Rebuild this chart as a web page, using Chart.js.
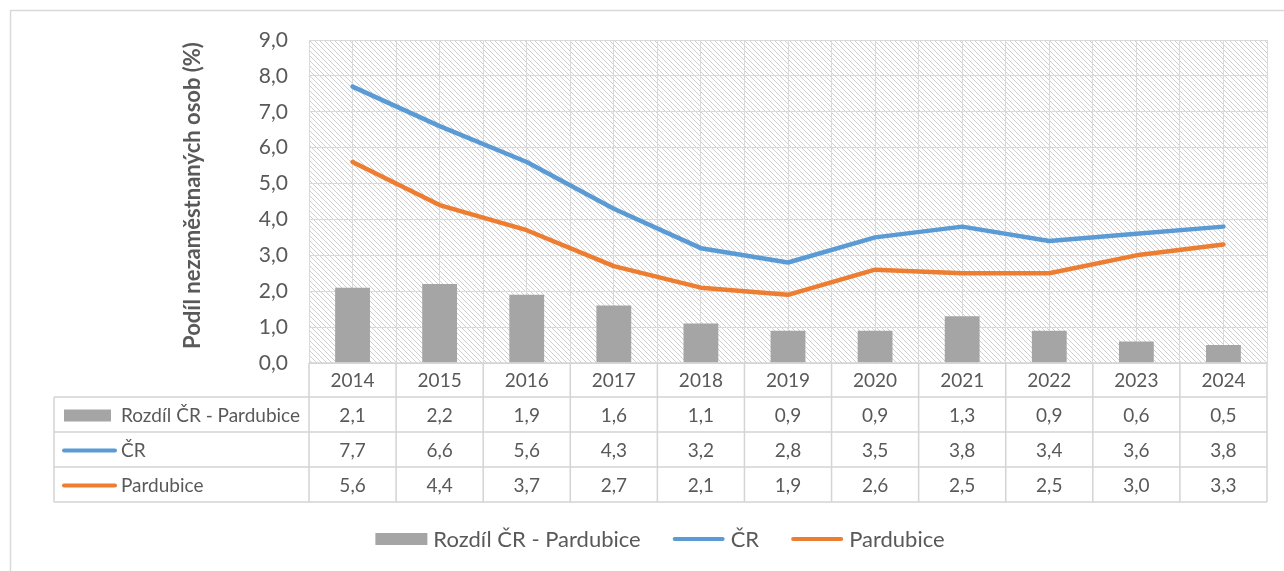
<!DOCTYPE html>
<html>
<head>
<meta charset="utf-8">
<script src="https://cdn.jsdelivr.net/npm/chart.js@4.4.1/dist/chart.umd.min.js"></script>
<style>
  html, body { margin: 0; padding: 0; background: #ffffff; }
  #wrap { width: 1284px; height: 571px; position: relative; }
</style>
</head>
<body>
<div id="wrap"><canvas id="c" width="1284" height="571"></canvas></div>
<script>
// ---- data ----
const years = ['2014', '2015', '2016', '2017', '2018', '2019', '2020', '2021', '2022', '2023', '2024'];
const rozdil = [2.1, 2.2, 1.9, 1.6, 1.1, 0.9, 0.9, 1.3, 0.9, 0.6, 0.5];
const cr = [7.7, 6.6, 5.6, 4.3, 3.2, 2.8, 3.5, 3.8, 3.4, 3.6, 3.8];
const pardubice = [5.6, 4.4, 3.7, 2.7, 2.1, 1.9, 2.6, 2.5, 2.5, 3.0, 3.3];
const seriesNames = ['Rozdíl ČR - Pardubice', 'ČR', 'Pardubice'];
const yTitle = 'Podíl nezaměstnaných osob (%)';
const yMin = 0, yMax = 9, yStep = 1;

// ---- style ----
const FONT = 'Lato';
const TXT = '#595959';
const GRID = '#d9d9d9';
const COL_BAR = '#a5a5a5';
const COL_CR = '#5b9bd5';
const COL_PA = '#ed7d31';
const fmt = v => v.toFixed(1).replace('.', ',');

Chart.defaults.font.family = FONT;
Chart.defaults.color = TXT;

function makeHatch() {
  const s = 5;
  const c = document.createElement('canvas');
  c.width = s; c.height = s;
  const g = c.getContext('2d');
  g.fillStyle = '#ffffff';
  g.fillRect(0, 0, s, s);
  g.fillStyle = '#cfcfcf';
  for (let i = 0; i < s; i++) g.fillRect(i, i, 1, 1);
  return c;
}

const tablePlugin = {
  id: 'tablePlugin',
  beforeDraw(chart) {
    const { ctx, chartArea: a } = chart;
    ctx.save();
    // outer frame (top and left visible)
    ctx.strokeStyle = GRID;
    ctx.lineWidth = 1.5;
    ctx.beginPath();
    ctx.moveTo(10.5, 600); ctx.lineTo(10.5, 10.5); ctx.lineTo(1300, 10.5);
    ctx.stroke();
    // hatched plot background
    const pat = ctx.createPattern(makeHatch(), 'repeat');
    ctx.translate(a.left, a.top);
    ctx.fillStyle = pat;
    ctx.fillRect(0, 0, a.right - a.left, a.bottom - a.top);
    ctx.restore();
  },
  afterDraw(chart) {
    const { ctx, chartArea: a } = chart;
    const x = chart.scales.x;
    const half = (x.getPixelForValue(1) - x.getPixelForValue(0)) / 2;
    const top = a.bottom;
    const rowH = 35;
    const tableLeft = 54;
    const rowsTop = top + 34;
    const nRows = seriesNames.length;
    const bottom = rowsTop + rowH * nRows;
    ctx.save();

    // y axis title
    ctx.save();
    ctx.translate(193, (a.top + a.bottom) / 2 - 6);
    ctx.rotate(-Math.PI / 2);
    ctx.fillStyle = TXT;
    ctx.font = 'bold 22px ' + FONT;
    ctx.textAlign = 'center';
    ctx.textBaseline = 'middle';
    ctx.fillText(yTitle, 0, 0);
    ctx.restore();

    ctx.strokeStyle = '#d4d4d4';
    ctx.lineWidth = 1.5;
    ctx.beginPath();
    // horizontal lines
    ctx.moveTo(a.left, top); ctx.lineTo(a.right, top);
    for (let r = 0; r <= nRows; r++) {
      const yy = rowsTop + r * rowH;
      ctx.moveTo(tableLeft, yy); ctx.lineTo(a.right, yy);
    }
    // vertical lines
    ctx.moveTo(tableLeft, rowsTop); ctx.lineTo(tableLeft, bottom);
    for (let i = 0; i <= years.length; i++) {
      const xx = x.getPixelForValue(0) - half + i * 2 * half;
      ctx.moveTo(xx, top); ctx.lineTo(xx, bottom);
    }
    ctx.stroke();

    // header years
    ctx.fillStyle = TXT;
    ctx.textAlign = 'center';
    ctx.textBaseline = 'middle';
    ctx.font = '19px ' + FONT;
    years.forEach((yv, i) => ctx.fillText(yv, x.getPixelForValue(i), top + 18));

    // rows
    const rows = [rozdil, cr, pardubice];
    const colors = [COL_BAR, COL_CR, COL_PA];
    rows.forEach((arr, r) => {
      const cy = rowsTop + r * rowH + rowH / 2 + 1;
      ctx.textAlign = 'center';
      ctx.fillStyle = TXT;
      ctx.font = '19px ' + FONT;
      arr.forEach((v, i) => ctx.fillText(fmt(v), x.getPixelForValue(i), cy));
      // key
      if (r === 0) {
        ctx.fillStyle = colors[r];
        ctx.fillRect(64, cy - 6, 47, 12);
      } else {
        ctx.strokeStyle = colors[r];
        ctx.lineWidth = 4;
        ctx.lineCap = 'round';
        ctx.beginPath();
        ctx.moveTo(64, cy); ctx.lineTo(115, cy);
        ctx.stroke();
      }
      ctx.fillStyle = TXT;
      ctx.textAlign = 'left';
      ctx.fillText(seriesNames[r], 121, cy);
    });

    // bottom legend
    ctx.font = '22px ' + FONT;
    const keyW = 52, keyGap = 6, itemGap = 32;
    const widths = seriesNames.map(n => keyW + keyGap + ctx.measureText(n).width);
    const total = widths.reduce((s, w) => s + w, 0) + itemGap * (widths.length - 1);
    let lx = 660 - total / 2;
    const ly = 539;
    seriesNames.forEach((n, i) => {
      if (i === 0) {
        ctx.fillStyle = colors[i];
        ctx.fillRect(lx, ly - 6, keyW, 12);
      } else {
        ctx.strokeStyle = colors[i];
        ctx.lineWidth = 4;
        ctx.lineCap = 'round';
        ctx.beginPath();
        ctx.moveTo(lx + 2, ly); ctx.lineTo(lx + keyW - 2, ly);
        ctx.stroke();
      }
      ctx.fillStyle = TXT;
      ctx.textAlign = 'left';
      ctx.textBaseline = 'middle';
      ctx.fillText(n, lx + keyW + keyGap, ly + 1);
      lx += widths[i] + itemGap;
    });
    ctx.restore();
  }
};

new Chart(document.getElementById('c'), {
  type: 'bar',
  data: {
    labels: years,
    datasets: [
      {
        type: 'line', label: seriesNames[1], data: cr, order: 1,
        borderColor: COL_CR, backgroundColor: COL_CR, borderWidth: 4.5,
        pointRadius: 0, tension: 0, borderJoinStyle: 'round', borderCapStyle: 'round', xAxisID: 'x'
      },
      {
        type: 'line', label: seriesNames[2], data: pardubice, order: 1,
        borderColor: COL_PA, backgroundColor: COL_PA, borderWidth: 4.5,
        pointRadius: 0, tension: 0, borderJoinStyle: 'round', borderCapStyle: 'round', xAxisID: 'x'
      },
      {
        type: 'bar', label: seriesNames[0], data: rozdil, order: 2,
        backgroundColor: COL_BAR, borderWidth: 0,
        categoryPercentage: 1, barPercentage: 0.4, xAxisID: 'x'
      }
    ]
  },
  options: {
    responsive: false,
    animation: false,
    devicePixelRatio: 1,
    layout: { padding: { left: 0, top: 40, right: 17, bottom: 208 } },
    plugins: { legend: { display: false }, tooltip: { enabled: false } },
    scales: {
      x: {
        type: 'category', position: 'bottom', offset: true,
        grid: { offset: true, color: GRID, lineWidth: 1, drawTicks: false },
        ticks: { display: false },
        border: { display: false },
        afterFit: s => { s.height = 0; }
      },
      x2: {
        type: 'category', position: 'bottom', offset: true, labels: years,
        grid: { offset: false, color: GRID, lineWidth: 1, drawTicks: false },
        ticks: { display: false },
        border: { display: false },
        afterFit: s => { s.height = 0; }
      },
      y: {
        min: yMin, max: yMax,
        ticks: { stepSize: yStep, padding: 21, color: TXT, font: { size: 21, family: FONT }, callback: v => fmt(v) },
        grid: { color: GRID, lineWidth: 1, drawTicks: false },
        border: { display: false },
        title: { display: false },
        afterFit: s => { s.width = 309; }
      }
    }
  },
  plugins: [tablePlugin]
});
</script>
</body>
</html>
